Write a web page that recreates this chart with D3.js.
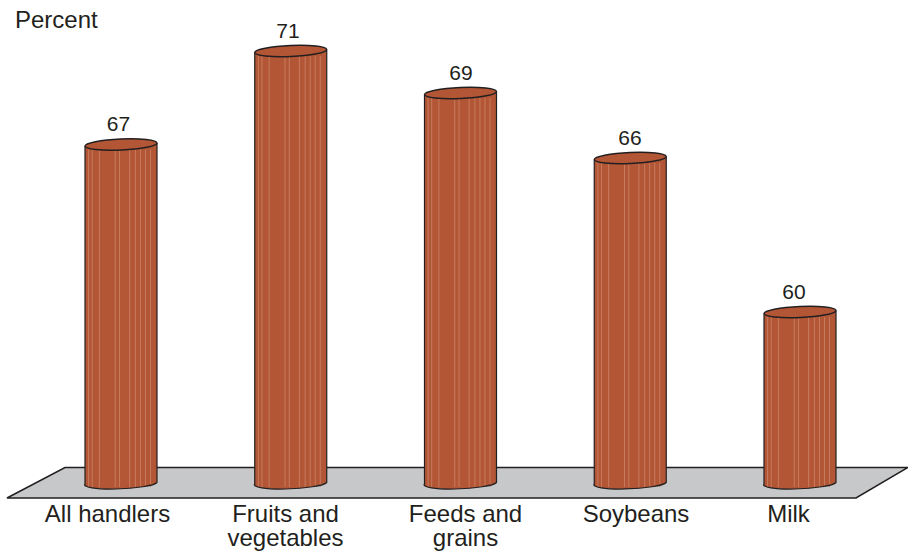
<!DOCTYPE html>
<html><head><meta charset="utf-8">
<script src="https://cdn.jsdelivr.net/npm/d3@7"></script>
<style>html,body{margin:0;padding:0;background:#fff}svg{display:block}text{font-family:"Liberation Sans",Arial,sans-serif;fill:#231f20}</style>
</head><body><svg id="c" width="908" height="552"></svg>
<script>
const categories = [["All handlers"],["Fruits and","vegetables"],["Feeds and","grains"],["Soybeans"],["Milk"]];
const values = [67,71,69,66,60];
const yLabel = "Percent";
// The original's bar heights are not proportional: the scale is read off the picture.
const yDomain = [60,66,67,69,71];
const yRange = [312,158,144.5,93,51];
const stripeOffsets = [0.05,0.1,0.2,0.42,0.48,0.62,0.7,0.77,0.84,0.91];
const valueLabelX = [118.5,288,461,630,794];
const catLabelX = [107.5,285.5,465.5,636,788.5];

const svg = d3.select("#c");
const x = d3.scalePoint().domain(d3.range(values.length)).range([121,800]);
const y = d3.scaleLinear().domain(yDomain).range(yRange);
const rx = 36, ry = 5.5, base = 484, tilt = -2.5;

svg.append("path").attr("d",d3.line()([[7,498],[65,467.5],[908,467.5],[856,498]])+"Z")
  .attr("fill","#c7c8ca").attr("stroke","#231f20").attr("stroke-width",1.5);

const g = svg.selectAll("g.bar").data(values).join("g").attr("class","bar");
g.append("path").attr("fill","#b35635").attr("stroke","none")
  .attr("d",(d,i)=>{
    const c=x(i), t=y(d);
    return `M${c-rx},${t+1.5} L${c-rx},${base} A${rx},${ry} ${tilt} 0 0 ${c+rx},${base-1.5} L${c+rx},${t-1.5} Z`;
  });
stripeOffsets.forEach(o=>{
  g.append("line").attr("x1",(d,i)=>x(i)-rx+o*2*rx).attr("x2",(d,i)=>x(i)-rx+o*2*rx)
   .attr("y1",d=>y(d)+5).attr("y2",base+3)
   .attr("stroke","#c67c5f").attr("stroke-width",1);
});
g.append("path").attr("fill","none").attr("stroke","#231f20").attr("stroke-width",1.2)
  .attr("d",(d,i)=>{
    const c=x(i), t=y(d);
    return `M${c-rx},${t+1.5} L${c-rx},${base} A${rx},${ry} ${tilt} 0 0 ${c+rx},${base-1.5} L${c+rx},${t-1.5}`;
  });
g.append("ellipse").attr("rx",rx).attr("ry",ry).attr("fill","#b35635").attr("stroke","#231f20").attr("stroke-width",1.4)
  .attr("transform",(d,i)=>`translate(${x(i)},${y(d)}) rotate(${tilt})`);
g.append("text").attr("x",(d,i)=>valueLabelX[i]).attr("y",d=>y(d)-13.5).attr("text-anchor","middle").attr("font-size",21).text(d=>d);

svg.append("text").attr("x",15).attr("y",28).attr("font-size",24).text(yLabel);
const lab = svg.selectAll("text.cat").data(categories).join("text").attr("class","cat")
  .attr("text-anchor","middle").attr("font-size",24);
lab.selectAll("tspan").data((d,i)=>d.map(t=>({t,i}))).join("tspan")
  .attr("x",d=>catLabelX[d.i]).attr("y",(d,j)=>522+j*24).text(d=>d.t);
</script></body></html>
